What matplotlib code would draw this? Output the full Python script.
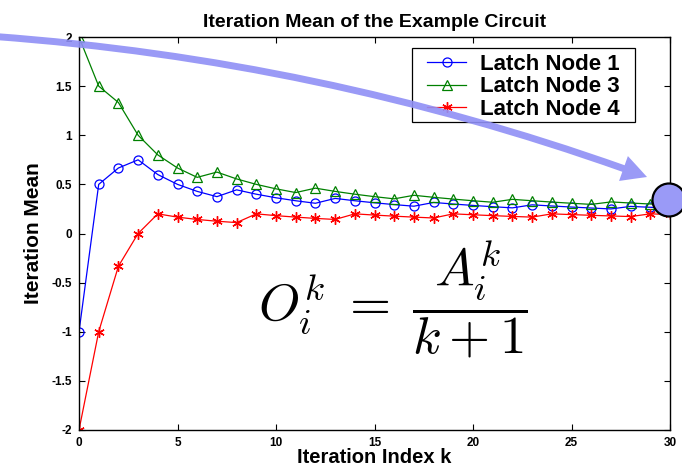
"""Iteration mean of the latch nodes in the example circuit."""

import matplotlib

matplotlib.use("Agg")

import matplotlib.pyplot as plt  # noqa: E402
from matplotlib.patches import Circle, FancyArrowPatch, Rectangle  # noqa: E402

plt.rcParams["font.family"] = "Liberation Sans"
plt.rcParams["font.weight"] = "bold"
plt.rcParams["mathtext.fontset"] = "cm"

k = list(range(31))

node1 = [-1, 0.5, 0.6667, 0.75, 0.6, 0.5, 0.4286, 0.375, 0.4444, 0.4, 0.3636,
         0.3333, 0.3077, 0.3571, 0.3333, 0.3125, 0.2941, 0.2778, 0.3158, 0.3,
         0.2857, 0.2727, 0.2609, 0.2917, 0.28, 0.2692, 0.2593, 0.25, 0.2759,
         0.2667, 0.2581]
node3 = [2, 1.5, 1.3333, 1.0, 0.8, 0.6667, 0.5714, 0.625, 0.5556, 0.5, 0.4545,
         0.4167, 0.4615, 0.4286, 0.4, 0.375, 0.3529, 0.3889, 0.3684, 0.35,
         0.3333, 0.3182, 0.3478, 0.3333, 0.32, 0.3077, 0.2963, 0.3214, 0.3103,
         0.3, 0.2903]
node4 = [-2, -1, -0.3333, 0, 0.2, 0.1667, 0.1429, 0.125, 0.1111, 0.2, 0.1818,
         0.1667, 0.1538, 0.1429, 0.2, 0.1875, 0.1765, 0.1667, 0.1579, 0.2,
         0.1905, 0.1818, 0.1739, 0.1667, 0.2, 0.1923, 0.1852, 0.1786, 0.1724,
         0.2, 0.1935]

xticks = [0, 5, 10, 15, 20, 25, 30]
yticks = [-2, -1.5, -1, -0.5, 0, 0.5, 1, 1.5, 2]
ytick_labels = ["-2", "-1.5", "-1", "-0.5", "0", "0.5", "1", "1.5", "2"]

W, H = 6.82, 4.66
fig = plt.figure(figsize=(W, H), dpi=100)
ax = fig.add_axes([79 / 682, 1 - 430 / 466, 591 / 682, 393 / 466])

asterisk = (6, 2, 0)
ax.plot(k, node1, "-o", color="#0000ff", lw=0.9, ms=6.5, mfc="none", mew=0.9,
        label="Latch Node 1")
ax.plot(k, node3, "-^", color="#008000", lw=0.9, ms=7, mfc="none", mew=0.9,
        label="Latch Node 3")
ax.plot(k, node4, "-", marker=asterisk, color="#ff0000", lw=0.9, ms=7.5,
        mew=1.0, label="Latch Node 4")

ax.set_xlim(0, 30)
ax.set_ylim(-2, 2)
ax.set_xticks(xticks)
ax.set_yticks(yticks)
ax.set_yticklabels(ytick_labels)
ax.tick_params(direction="in", top=True, right=True, length=4, width=0.8,
               labelsize=8.5, pad=5)
for s in ax.spines.values():
    s.set_linewidth(1.0)

ax.set_title("Iteration Mean of the Example Circuit", fontsize=14,
             fontweight="bold", pad=7)
ax.set_xlabel("Iteration Index k", fontsize=14.5, fontweight="bold",
              labelpad=-1)
ax.set_ylabel("Iteration Mean", fontsize=15, fontweight="bold", labelpad=6)

# legend box drawn separately so its padding can be wider than tall
box = Rectangle((412 / 682, 1 - 122 / 466), 223 / 682, 74 / 466,
                transform=fig.transFigure, facecolor="white",
                edgecolor="black", lw=0.9, zorder=4.9)
ax.add_patch(box)
box.set_clip_on(False)
leg = ax.legend(loc="upper left", bbox_to_anchor=(412 / 682, 1 - 39 / 466),
                bbox_transform=fig.transFigure, borderaxespad=0, numpoints=1,
                fontsize=16, handlelength=1.76, handletextpad=0.63,
                frameon=False, labelspacing=0.06, borderpad=0.68)

# update formula
fig.text(393 / 682, 1 - 300 / 466,
         r"$O_i^k \;=\; \dfrac{A_i^k}{k+1}$",
         fontsize=38, ha="center", va="center")

# highlight arrow sweeping to the converged value
arrow = FancyArrowPatch(
    posA=(-0.05, H - 0.365), posB=(6.47, H - 1.77),
    connectionstyle="arc3,rad=-0.07",
    arrowstyle="simple,head_length=1.8,head_width=1.9,tail_width=0.5",
    mutation_scale=10, shrinkA=0, shrinkB=0,
    transform=fig.dpi_scale_trans, color="#8f8ff5", alpha=0.9, lw=0)
fig.add_artist(arrow)
fig.add_artist(Circle((6.69, H - 2.00), 0.165, transform=fig.dpi_scale_trans,
                      facecolor="#9a9af7", edgecolor="black", lw=1.6))

fig.savefig("out.png", dpi=100)
